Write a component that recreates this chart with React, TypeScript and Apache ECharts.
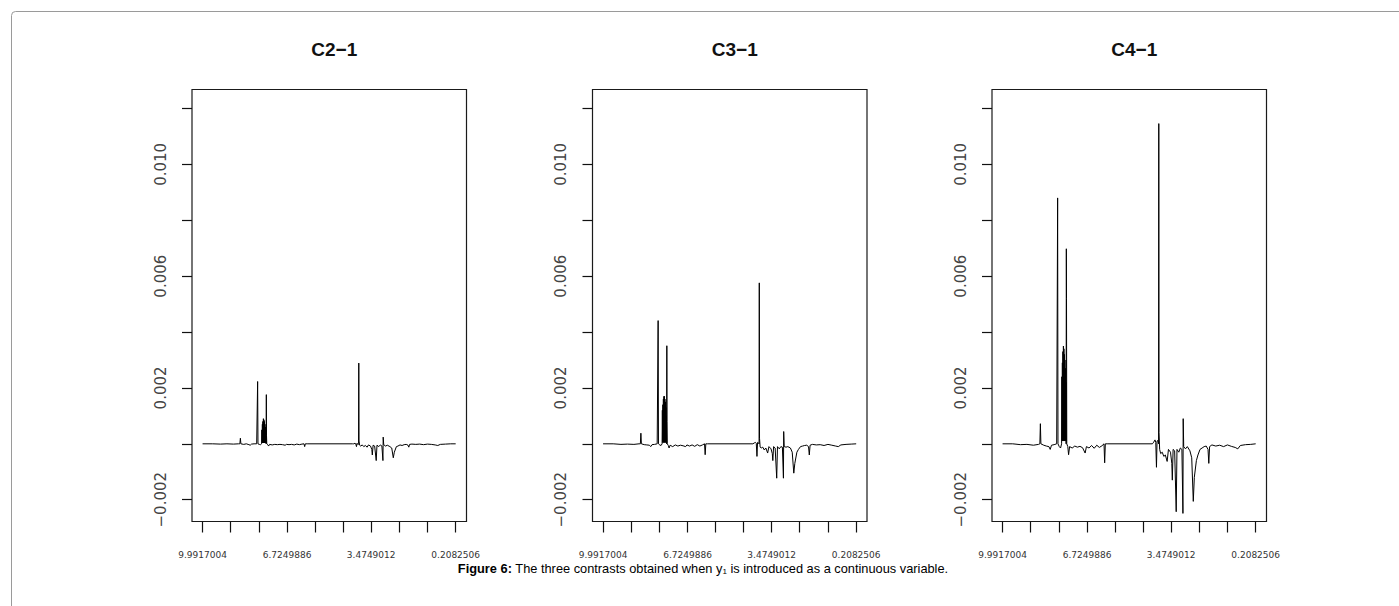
import React, { useEffect, useRef } from "react";
import * as echarts from "echarts";

// chemical shift (ppm), shared by the three panels, in plotting order
const ppm = [
  9.9917, 9.6, 9.3, 9.05, 8.8, 8.6, 8.55, 8.53, 8.51, 8.4, 8.3, 8.2, 8.15, 8.1, 8.0, 7.9,
  7.875, 7.863, 7.85, 7.8, 7.75, 7.71, 7.7, 7.69, 7.68, 7.67, 7.66, 7.65, 7.64, 7.63, 7.62,
  7.61, 7.6, 7.59, 7.58, 7.57, 7.56, 7.55, 7.54, 7.535, 7.527, 7.52, 7.51, 7.47, 7.44, 7.4,
  7.3, 7.2, 7.1, 7.0, 6.9, 6.8, 6.75, 6.65, 6.55, 6.45, 6.35, 6.25, 6.15, 6.07, 6.045, 6.02,
  5.95, 4.2, 4.15, 4.1, 4.07, 4.043, 4.02, 3.98, 3.962, 3.953, 3.944, 3.92, 3.88, 3.82, 3.76,
  3.7, 3.63, 3.58, 3.5, 3.45, 3.43, 3.4, 3.34, 3.28, 3.25, 3.18, 3.12, 3.06, 3.02, 3.01, 2.99,
  2.92, 2.85, 2.75, 2.68, 2.62, 2.58, 2.5, 2.44, 2.36, 2.28, 2.2, 2.12, 2.05, 2.02, 1.99, 1.9,
  1.75, 1.6, 1.45, 1.3, 1.15, 1.0, 0.9, 0.8, 0.6, 0.4, 0.2083,
];

const c21 = [
  0, 0, -0.00001, 0, -0.00001, 0, 0, 0.0002, 0, -0.00002, 0, -0.00003, -0.00005, -0.00001, 0, 0,
  0, 0.00223, 0, -0.00002, -0.00003, 0, 0.0005, 0.00003, 0.0007, 0.00003, 0.0008, 0.00003, 0.0009, 0.00003, 0.00086,
  0.00003, 0.0008, 0.00003, 0.0007, 0.00003, 0.0006, 0.00003, 0.0005, 0, 0.00176, 0.0003, 0, -0.00003, -0.00008, -0.00002,
  -0.00004, -0.00002, -0.00003, -0.00002, -0.00003, -0.00005, -0.00002, -0.00003, -0.00002, -0.00004, -0.00001, -0.00003, -0.00001, 0, -0.0001, 0,
  0, 0, 0, 0.00002, 0, -0.0001, 0.00002, -0.00003, 0, 0.00289, 0.0001, -0.00005, -0.00008, -0.00004, -0.0001,
  -0.00006, -0.00012, -0.00004, -0.00008, -0.0002, -0.0004, -0.00005, -0.00008, -0.0006, -0.00005, -0.0001, -0.00004, -0.00008, -0.0006, 0.00024, -0.00003,
  -0.00008, -0.00005, -0.0001, -0.00015, -0.0005, -0.0003, -0.0001, -0.00008, -0.00004, -0.00006, -0.00003, -0.00002, -0.00005, -0.00012, -0.00002, -0.00001,
  -0.00002, -0.00001, -0.00003, -0.00001, -0.00002, -0.00004, -0.00006, -0.00002, -0.00001, 0, 0,
];

const c31 = [
  0, 0, -0.00002, -0.00001, -0.00002, 0, 0, 0.00038, 0, -0.00003, -0.00004, -0.00005, -0.0001, -0.00003, -0.00002, 0,
  0, 0.00441, 0, -0.00004, -0.00006, 0, 0.0012, 0.00005, 0.0014, 0.00005, 0.0016, 0.00005, 0.0017, 0.00005, 0.0017,
  0.00005, 0.0016, 0.00005, 0.0015, 0.00005, 0.0013, 0.00005, 0.001, 0, 0.00351, 0.0008, 0, -0.00006, -0.00015, -0.00005,
  -0.0001, -0.00004, -0.00008, -0.00005, -0.00007, -0.0001, -0.00004, -0.00008, -0.00004, -0.00009, -0.00003, -0.00008, -0.00004, 0, -0.00039, 0,
  0, 0, 0.00003, 0.00005, 0.00002, -0.00045, 0.00005, 0.00003, 0, 0.00576, 0.0002, -0.00012, -0.00015, -0.00012, -0.00022,
  -0.00015, -0.00033, -0.0001, -0.00018, -0.00035, -0.0006, -0.0001, -0.00015, -0.00123, -0.0001, -0.00018, -0.0001, -0.00012, -0.00123, 0.00044, -0.0001,
  -0.00012, -0.0001, -0.00015, -0.0003, -0.00105, -0.0007, -0.0003, -0.0002, -0.0001, -0.00008, -0.00006, -0.00005, -0.0001, -0.0004, -0.00005, -0.00002,
  -0.00004, -0.00003, -0.00006, -0.00002, -0.00005, -0.00008, -0.0001, -0.00004, -0.00002, -0.00001, 0,
];

const c41 = [
  0, 0, -0.00003, -0.00002, -0.00005, -0.00002, 0, 0.00072, 0, -0.00005, -0.00008, -0.0001, -0.0002, -0.00005, -0.00003, 0,
  0, 0.0088, 0, -0.0001, -0.00015, 0, 0.0024, 0.0001, 0.0029, 0.0001, 0.0033, 0.0001, 0.0035, 0.0001, 0.0034,
  0.0001, 0.0032, 0.0001, 0.003, 0.0001, 0.0027, 0.0001, 0.0022, 0, 0.00698, 0.0052, 0, -0.0001, -0.00039, -0.0001,
  -0.00015, -0.00008, -0.00012, -0.00009, -0.00014, -0.00033, -0.0001, -0.00015, -0.00006, -0.00016, -0.00005, -0.00013, -0.00007, 0, -0.00068, 0,
  0, 0, 0.00006, 0.00014, 0.00005, -0.00084, 0.0001, 0.00012, 0, 0.01146, 0.0004, -0.0002, -0.00035, -0.0003, -0.00045,
  -0.0004, -0.00063, -0.0002, -0.0003, -0.0007, -0.0013, -0.0002, -0.00025, -0.00243, -0.0002, -0.0003, -0.00015, -0.0002, -0.00249, 0.0009, -0.0001,
  -0.00018, -0.0001, -0.00025, -0.0005, -0.00206, -0.0012, -0.0006, -0.0004, -0.0002, -0.00015, -0.0001, -0.00008, -0.0002, -0.0007, -0.0001, -0.00004,
  -0.00008, -0.00005, -0.0001, -0.00004, -0.00009, -0.00013, -0.00018, -0.00006, -0.00003, -0.00002, 0,
];

const panelTitles = ["C2\u22121", "C3\u22121", "C4\u22121"];
const panelValues = [c21, c31, c41];

const xTickValues = [9.9917004, 8.905, 7.815, 6.7249886, 5.64, 4.555, 3.4749012, 2.39, 1.2985, 0.2082506];
const xLabelValues = [9.9917004, 6.7249886, 3.4749012, 0.2082506];
const xLabelTexts = ["9.9917004", "6.7249886", "3.4749012", "0.2082506"];

const yTickValues = [-0.002, 0, 0.002, 0.004, 0.006, 0.008, 0.01, 0.012];
const yLabelValues = [-0.002, 0.002, 0.006, 0.01];
const yLabelTexts = ["\u22120.002", "0.002", "0.006", "0.010"];

const captionBold = "Figure 6:";
const captionA = " The three contrasts obtained when y";
const captionSub = "1";
const captionB = " is introduced as a continuous variable.";

export default function App() {
  const ref = useRef<HTMLDivElement>(null);

  useEffect(() => {
    if (!ref.current) return;
    const chart = echarts.init(ref.current, undefined, { renderer: "svg" });

    const lefts = [192, 592.5, 992];
    const gridW = 274.5;
    const gridTop = 89.5;
    const gridH = 432;

    const nearestLabel = (v: number, vals: number[], texts: string[]) => {
      let best = 0;
      for (let i = 1; i < vals.length; i++) {
        if (Math.abs(vals[i] - v) < Math.abs(vals[best] - v)) best = i;
      }
      return texts[best];
    };

    const grids = lefts.map((l) => ({
      left: l,
      top: gridTop,
      width: gridW,
      height: gridH,
      show: true,
      borderColor: "#1a1a1a",
      borderWidth: 1.2,
      backgroundColor: "transparent",
    }));

    const xAxes = lefts.map((_, i) => ({
      type: "value",
      gridIndex: i,
      position: "bottom",
      inverse: true,
      min: -0.21,
      max: 10.4,
      splitLine: { show: false },
      axisLine: { show: false, onZero: false },
      axisTick: {
        show: true,
        length: 11,
        customValues: xTickValues,
        lineStyle: { color: "#111", width: 1.2 },
      },
      axisLabel: {
        show: true,
        customValues: xLabelValues,
        margin: 29,
        fontFamily: "DejaVu Sans",
        fontSize: 9,
        color: "#333",
        formatter: (v: number) => nearestLabel(v, xLabelValues, xLabelTexts),
      },
    }));

    const yAxes = lefts.map((_, i) => ({
      type: "value",
      gridIndex: i,
      position: "left",
      min: -0.00278,
      max: 0.01268,
      splitLine: { show: false },
      axisLine: { show: false, onZero: false },
      axisTick: {
        show: true,
        length: 10,
        customValues: yTickValues,
        lineStyle: { color: "#111", width: 1.2 },
      },
      axisLabel: {
        show: true,
        customValues: yLabelValues,
        rotate: 90,
        margin: 24,
        fontFamily: "DejaVu Sans",
        fontSize: 15,
        color: "#444",
        formatter: (v: number) => nearestLabel(v, yLabelValues, yLabelTexts),
      },
    }));

    const series = panelValues.map((vals, i) => ({
      type: "line",
      xAxisIndex: i,
      yAxisIndex: i,
      showSymbol: false,
      symbol: "none",
      lineStyle: { color: "#000", width: 1 },
      data: ppm.map((p, j) => [p, vals[j]]),
      z: 3,
    }));

    const titles: any[] = panelTitles.map((t, i) => ({
      text: t,
      left: lefts[i] + gridW / 2,
      top: 35,
      textAlign: "center",
      textStyle: {
        fontFamily: "Liberation Sans, Arial, sans-serif",
        fontWeight: "bold",
        fontSize: 19,
        color: "#111",
      },
    }));

    const capFont = "Liberation Sans, Arial, sans-serif";
    titles.push({
      text: `{b|${captionBold}}{n|${captionA}}{s|${captionSub}}{n|${captionB}}`,
      left: 698,
      top: 557,
      textAlign: "center",
      textStyle: {
        fontWeight: "normal",
        fontFamily: capFont,
        fontSize: 12.8,
        color: "#000",
        rich: {
          b: { fontFamily: capFont, fontWeight: "bold", fontSize: 12.8, color: "#000" },
          n: { fontFamily: capFont, fontWeight: "normal", fontSize: 12.8, color: "#000" },
          s: { fontFamily: capFont, fontWeight: "normal", fontSize: 8, color: "#000", verticalAlign: "bottom" },
        },
      },
    });

    chart.setOption({
      animation: false,
      backgroundColor: "#fff",
      title: titles,
      grid: grids,
      xAxis: xAxes,
      yAxis: yAxes,
      series,
      graphic: [
        {
          type: "rect",
          z: -1,
          shape: { x: 11.5, y: 11.5, width: 1400, height: 700, r: 4 },
          style: { fill: "none", stroke: "#9a9a9a", lineWidth: 1 },
          silent: true,
        },
      ],
    });

    return () => chart.dispose();
  }, []);

  return (
    <div
      ref={ref}
      style={{ position: "fixed", left: 0, top: 0, width: 1399, height: 606, background: "#fff" }}
    />
  );
}
